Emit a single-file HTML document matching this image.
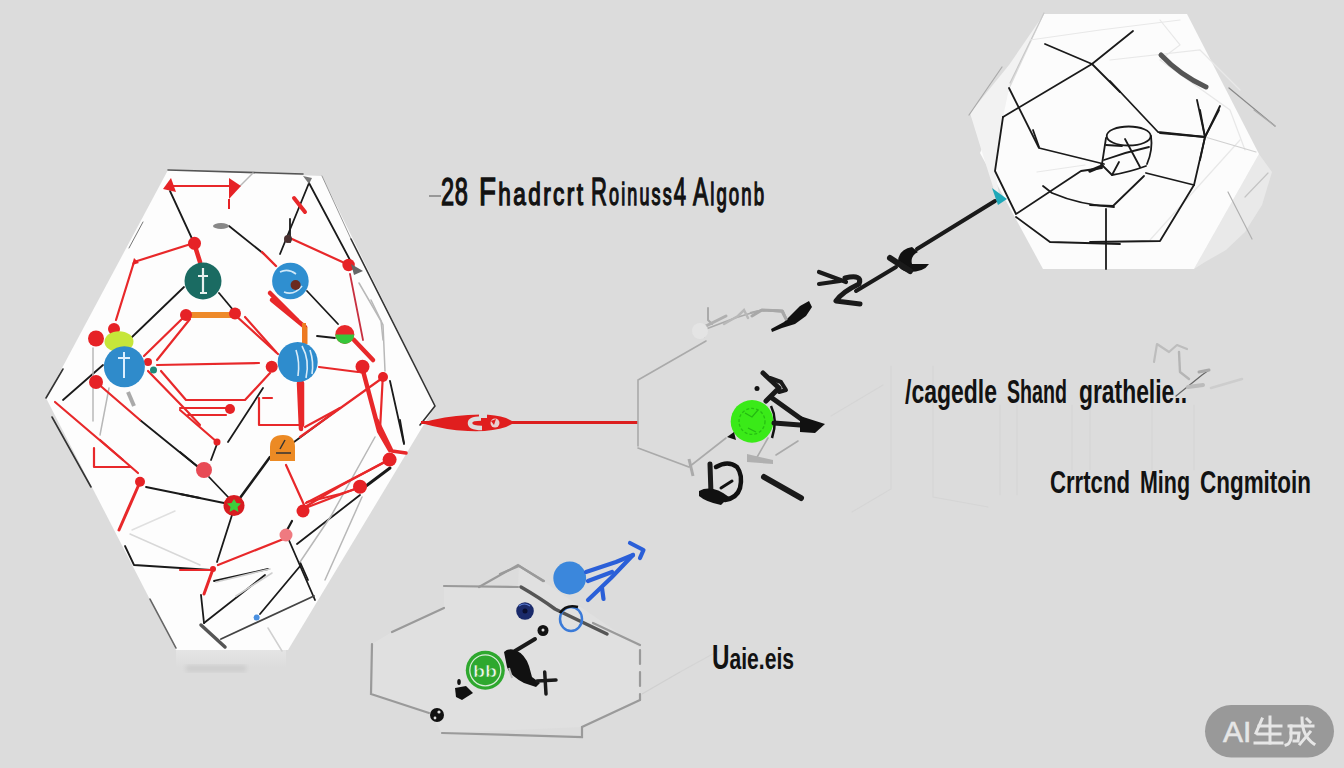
<!DOCTYPE html>
<html><head><meta charset="utf-8">
<style>
html,body{margin:0;padding:0;background:#dcdcdc;width:1344px;height:768px;overflow:hidden}
svg{display:block;position:absolute;left:0;top:0}
.t{font-family:"Liberation Sans",sans-serif;font-weight:normal;fill:#121212;stroke:#121212;stroke-width:1.4}
.tb{font-family:"Liberation Sans",sans-serif;font-weight:bold;fill:#121212}
.k{stroke:#1a1a1a;fill:none;stroke-linecap:round;stroke-linejoin:round}
.r{stroke:#e8282a;fill:none;stroke-linecap:round;stroke-linejoin:round}
.g{stroke:#b8b8b8;fill:none;stroke-linecap:round}
.lg{stroke:#e4e4e4;fill:none;stroke-linecap:round}
</style></head><body>
<svg width="1344" height="768" viewBox="0 0 1344 768">
<defs>
<linearGradient id="shad" x1="0" y1="0" x2="0" y2="1">
<stop offset="0" stop-color="#e6e6e6"/><stop offset="1" stop-color="#dcdcdc"/>
</linearGradient>
<filter id="blur2"><feGaussianBlur stdDeviation="2"/></filter>
</defs>
<rect width="1344" height="768" fill="#dcdcdc"/>

<!-- ===== LEFT HEXAGON ===== -->
<rect x="176" y="648" width="110" height="20" fill="url(#shad)"/>
<rect x="186" y="665" width="60" height="7" fill="#cdcdcd" filter="url(#blur2)"/>
<polygon points="168,170 322,176 435,406 288,650 176,650 46,398" fill="#fdfdfd"/>
<!-- edge lines -->
<g class="k" stroke-width="1.6">
<path d="M168,170 L303,174" stroke="#555"/>
<path d="M322,176 L351,239" stroke="#999" stroke-width="1"/>
<path d="M351,239 L435,406 L420,425" stroke="#333"/>
<path d="M143,222 L129,248" stroke="#777" stroke-width="1"/>
<path d="M46,398 L63,369" stroke="#333"/>
<path d="M52,417 L91,487" stroke="#333"/>
<path d="M150,599 L176,648" stroke="#666"/>
</g>
<!-- black inner lines -->
<g class="k" stroke-width="1.8">
<path d="M170,191 L194,243"/>
<path d="M184,287 L131,338"/>
<path d="M219,293 L234,311"/>
<path d="M229,226 L264,254"/>
<path d="M309,183 L350,260"/>
<path d="M290,219 L290,242"/>
<path d="M307,291 L338,324"/>
<path d="M309,183 L280,254"/>
<path d="M317,336 L335,338"/>
<path d="M63,400 L103,365"/>
<path d="M140,420 L198,467"/>
<path d="M217,444 L211,460"/>
<path d="M228,442 L263,388"/>
<path d="M294,442 L340,408"/>
<path d="M390,381 L404,444"/>
<path d="M400,420 L404,443"/>
<path d="M180,452 L197,466"/>
<path d="M209,477 L229,498"/>
<path d="M180,494 L224,503"/>
<path d="M232,515 L217,562"/>
<path d="M146,487 L200,498"/>
<path d="M125,546 L134,565 L211,570"/>
<path d="M288,538 L315,600"/>
<path d="M297,544 L360,495"/>
<path d="M300,562 L308,580"/>
<path d="M214,581 L268,569"/>
<path d="M204,623 L265,575"/>
<path d="M221,639 L314,596" stroke="#444"/>
<path d="M260,614 L301,565"/>
<path d="M201,595 L204,623"/>
</g>
<path d="M240,498 L270,457" class="k" stroke-width="2.6"/>
<path d="M362,489 L390,468" class="k" stroke-width="3"/>
<path d="M201,625 L225,647" fill="none" stroke-linecap="round" stroke="#555" stroke-width="3.5"/>
<!-- gray lines -->
<g class="g" stroke-width="1.5">
<path d="M93,348 L93,421"/>
<path d="M109,388 L100,435"/>
<path d="M359,283 L381,321 L383,340"/>
<path d="M371,300 L383,325 L385,371"/>
<path d="M375,437 L331,516 L300,562"/>
<path d="M362,497 L325,580"/>
<path d="M132,530 L175,511" stroke="#e0e0e0"/>
<path d="M130,534 L200,565" stroke="#d8d8d8"/>
<path d="M216,582 L270,569" stroke="#cfcfcf"/>
<path d="M236,596 L272,573" stroke="#cfcfcf"/>
<path d="M268,628 L282,651" stroke="#d0d0d0"/>
<path d="M240,186 L253,173"/>
</g>
<!-- red lines -->
<g class="r" stroke-width="2.2">
<path d="M173,186 L235,186"/>
<path d="M194,243 L134,262 L116,320"/>
<path d="M235,315 L278,354"/>
<path d="M245,317 L276,352"/>
<path d="M144,356 L186,315"/>
<path d="M157,360 L190,319"/>
<path d="M157,365 L259,363"/>
<path d="M148,371 L186,410 L200,425"/>
<path d="M161,371 L186,400 L245,400 L270,373"/>
<path d="M180,408 L230,408"/>
<path d="M188,415 L226,415"/>
<path d="M180,410 L217,442"/>
<path d="M96,382 L140,420"/>
<path d="M55,402 L123,460"/>
<path d="M94,448 L94,467 L130,467"/>
<path d="M100,440 L138,473"/>
<path d="M259,398 L259,425 L301,425"/>
<path d="M263,398 L272,398"/>
<path d="M286,465 L305,507"/>
<path d="M305,507 L340,486 L388,460"/>
<path d="M307,502 L340,494 L362,487"/>
<path d="M300,510 L360,487"/>
<path d="M306,503 L389,460"/>
<path d="M305,427 L340,408"/>
<path d="M319,367 L358,372"/>
<path d="M383,373 L380,430"/>
<path d="M286,538 L218,565"/>
<path d="M292,521 L286,532" stroke="#1a1a1a"/>
<path d="M180,570 L213,570"/>
<path d="M300,437 L381,379"/>
<path d="M262,252 L276,266" stroke-width="2.4"/>
<path d="M292,239 L349,265"/>
<path d="M350,274 L363,340" stroke="#c83040" stroke-width="1.8"/>
<path d="M294,198 L305,212" stroke-width="4"/>
</g>
<g class="r" stroke-width="4.5">
<path d="M194,243 L200,262"/>
<path d="M270,293 L297,320"/>
<path d="M354,340 L373,360"/>
<path d="M362,367 L379,431 L390,450"/>
<path d="M299,383 L301,429"/>
<path d="M302,383 L302,425"/>
<path d="M272,300 L305,327"/>
<path d="M140,482 L119,530" stroke-width="3"/>
<path d="M213,569 L204,594" stroke-width="3"/>
<path d="M377,420 L392,451 L406,453" stroke-width="3.5"/>
</g>
<path d="M305,327 L305,344" stroke="#e87a20" stroke-width="5"/>
<path d="M190,315 L234,315" stroke="#ee8a2a" stroke-width="6"/>
<path d="M304,323 L304,344" stroke="#ee7a22" stroke-width="4"/>
<!-- red arrowheads / blobs -->
<g fill="#e62226">
<path d="M229,178 L241,186 L229,199 Z"/>
<path d="M229,199 L229,209" stroke="#e62226" stroke-width="2"/>
<path d="M171,178 L163,189 L176,192 Z"/>
<path d="M134,258 L139,263 L132,265 Z"/>
<circle cx="194.5" cy="243.3" r="6.5"/>
<circle cx="186" cy="315" r="6"/>
<circle cx="235" cy="313.5" r="6"/>
<circle cx="96" cy="338.5" r="8"/>
<circle cx="114" cy="329" r="6"/>
<circle cx="148" cy="362" r="4"/>
<circle cx="96" cy="382" r="7"/>
<circle cx="271.7" cy="366.7" r="6"/>
<circle cx="230" cy="409" r="5"/>
<circle cx="217" cy="442" r="3.5"/>
<circle cx="362.5" cy="366.7" r="7"/>
<circle cx="383" cy="377" r="5"/>
<circle cx="348.6" cy="265" r="6.2"/>
<circle cx="140" cy="481.7" r="5"/>
<circle cx="204" cy="470" r="8" fill="#e84a55"/>
<circle cx="303" cy="511" r="6.5"/>
<circle cx="286" cy="535" r="6.5" fill="#ef7a80"/>
<circle cx="360" cy="486.7" r="7"/>
<circle cx="389.6" cy="459.6" r="7"/>
<circle cx="234" cy="505.6" r="10.5" fill="#d81c20"/>
<circle cx="213" cy="569" r="3"/>
</g>
<!-- gray nubs -->
<ellipse cx="221" cy="226" rx="8" ry="3" fill="#888"/>
<path d="M303,176 L312,178 L309,184 Z" fill="#777"/>
<path d="M351,264 L363,271 L354,275 Z" fill="#666"/>
<circle cx="288" cy="239" r="4" fill="#4a3030"/>
<!-- green star -->
<path d="M234,499 L236.5,503 L241,503.5 L237.5,507 L238.5,512 L234,509.5 L229.5,512 L230.5,507 L227,503.5 L231.5,503 Z" fill="#3ccf3c"/>
<!-- teal circle -->
<circle cx="203" cy="281" r="18.5" fill="#1a6b62"/>
<path d="M203,268 L203,293 M198,276 L208,276 M200,293 L207,293" stroke="#e8f0ee" stroke-width="2.2" fill="none"/>
<!-- blue circles -->
<circle cx="290.4" cy="281" r="18.3" fill="#2f8fd0"/>
<path d="M280,272 Q288,268 296,274 M284,292 Q294,296 302,286" stroke="#cfe8f8" stroke-width="1.6" fill="none"/>
<circle cx="295.6" cy="285" r="5" fill="#6b2a1e"/>
<circle cx="297.7" cy="362" r="20" fill="#2e8ccd"/>
<path d="M302,346 Q310,360 306,378 M296,350 Q300,362 298,376 M310,350 Q314,362 312,374" stroke="#d8ecf8" stroke-width="1.6" fill="none"/>
<ellipse cx="119" cy="341.7" rx="14.5" ry="10.5" fill="#c6e63a"/>
<circle cx="124.4" cy="366.7" r="20.5" fill="#2f8bcb"/>
<path d="M124,352 L124,378 M118,358 L130,358" stroke="#dcefff" stroke-width="2" fill="none"/>
<path d="M128,392 L134,406" stroke="#aaa" stroke-width="4"/>
<circle cx="153.5" cy="370" r="3.5" fill="#1e8a7a"/>
<!-- red/green ball -->
<circle cx="344.8" cy="334.4" r="9.5" fill="#e8282a"/>
<path d="M335.3,334.4 A9.5,9.5 0 0 0 354.3,334.4 Z" fill="#37c63a"/>
<!-- orange icon -->
<path d="M270,461 L270,447 Q270,435 283,435 Q295,435 295,447 L295,461 Z" fill="#ec8a24"/>
<path d="M276,453 L291,453 M285,440 L280,449" stroke="#333" stroke-width="1.5" fill="none"/>
<!-- blue small blob bottom -->
<circle cx="256.6" cy="617.5" r="3" fill="#4a90e0"/>
<!-- red arrow to middle -->
<path d="M421,422.5 L638,422.5" stroke="#dc1e1e" stroke-width="3"/>
<path d="M421,423 Q445,416 468,415 Q492,413 506,418 L515,422.5 L506,427 Q492,432 468,431 Q445,430 421,423 Z" fill="#e01e1e"/>
<path d="M481,418.5 Q470,418.5 470,423 Q470,428 482,428" stroke="#dcdcdc" stroke-width="4.5" fill="none"/>
<rect x="479" y="412" width="8" height="6" fill="#dcdcdc"/>
<circle cx="495" cy="423" r="4.5" fill="#e9cfcf"/>
<path d="M491,421 L496,419 L494,425 Z" fill="#e01e1e"/>
<path d="M421,423 L460,416 L460,430 Z" fill="#e01e1e"/>

<!-- ===== TOP RIGHT HEXAGON ===== -->
<polygon points="1259,154 1272,172 1262,205 1245,232 1226,250 1205,262 1194,269" fill="#e9e9e9"/>
<polygon points="1044,14 1187,14 1259,154 1194,269 1043,269 980,153" fill="#fcfcfc"/>
<polygon points="970,113 1009,65 1044,14 1010,84 1003,117 995,171 1000,200 994,190 982,152" fill="#f2f2f2"/>
<g fill="none" stroke-linecap="round" stroke-width="1.2" stroke="#e8e8e8">
<path d="M1044,13 L1010,83" stroke="#c8c8c8"/>
<path d="M969,115 L1002,67" stroke="#aaa"/>
<path d="M1037,172 L1085,165"/>
<path d="M1229,88 L1275,126" stroke="#888"/>
<path d="M1254,110 L1275,126" stroke="#aaa"/>
<path d="M1268,173 L1245,197" stroke="#c4c4c4"/>
<path d="M1228,192 L1252,239" stroke="#b0b0b0"/>
<path d="M1160,20 L1180,45 L1160,60 L1230,110 L1245,150"/>
<path d="M1030,40 L1100,30 L1180,20"/>
<path d="M1110,60 L1200,50 L1240,90"/>
<path d="M1150,240 L1240,140"/>
<path d="M1205,137 L1256,152" stroke="#d0d0d0"/>
</g>
<g class="k" stroke-width="1.8">
<path d="M1045,44 L1092,64 L1120,92"/>
<path d="M1003,117 L1092,64 L1133,31"/>
<path d="M1009,88 L1039,148 L1104,164"/>
<path d="M1003,117 L995,171 L1016,214 L1081,171 L1102,168"/>
<path d="M1033,130 L1039,147"/>
<path d="M1110,81 L1158,132 L1205,137"/>
<path d="M1197,100 L1205,137 L1200,160"/>
<path d="M1220,106 L1205,137"/>
<path d="M1160,133 L1205,137 L1219,110"/>
<path d="M1200,110 L1205,137"/>
<path d="M1146,173 L1194,185 L1205,137"/>
<path d="M1194,185 L1160,241 L1090,242"/>
<path d="M1144,176 L1113,206 L1090,205"/>
<path d="M1106,209 L1106,269"/>
<path d="M1016,217 L1050,242 L1120,244"/>
<path d="M1043,186 L1052,193 Q1080,205 1114,207"/>
<path d="M1101,164 L1112,175 Q1130,172 1146,166"/>
<path d="M1106,138 L1102,164"/>
<path d="M1151,136 Q1153,150 1147,164"/>
<path d="M1125,139 L1140,167"/>
<path d="M1106,145 L1122,146"/>
<path d="M1104,160 Q1126,152 1149,147"/>
<path d="M1112,175 L1119,162"/>
</g>
<ellipse cx="1128.7" cy="136" rx="22" ry="9.5" fill="none" stroke="#1a1a1a" stroke-width="1.8"/>
<path d="M1090,171 L1102,166" class="k" stroke-width="3.5"/>
<path d="M1161,55 Q1180,75 1206,87" stroke="#555" stroke-width="5" fill="none" stroke-linecap="round"/>
<!-- arrow line -->
<path d="M995,201 L917,249" class="k" stroke-width="4"/>
<path d="M992,188 L1007,199 L998,205 Z" fill="#1fa8b8"/>
<path d="M898,262 Q898,250 912,247 L918,252 Q910,256 912,264 L929,264 Q924,272 909,272 Q898,271 898,262 Z" fill="#111"/>
<path d="M890,258 L910,271" class="k" stroke-width="6"/>
<path d="M896,267 L856,291" class="k" stroke-width="4"/>
<path d="M819,272 L846,282 M819,284 L840,281" class="k" stroke-width="4.2"/>
<path d="M845,278 Q863,274 859,284 Q842,292 836,301 L860,304" class="k" stroke-width="5"/>
<path d="M771,329 L784,322 L792,314 L800,306 L809,301 L812,307 L806,316 L795,324 L782,328 L772,332 Z" fill="#111"/>
<path d="M750,313 Q770,308 783,311 L786,318" stroke="#aaa" stroke-width="2" fill="none"/>

<!-- ===== MIDDLE HEXAGON ===== -->
<g fill="none" stroke-linecap="round" stroke-width="1.6" stroke="#aaa">
<path d="M638,446 L638,380 L706,341"/>
<path d="M638,448 L689,467 L726,438"/>
<path d="M706,329 L735,318 L761,310 L782,312 L786,319"/>
<path d="M708,308 L708,320 L712,324" stroke-width="2"/>
<path d="M704,336 L706,326 L726,316" stroke="#b0b0b0" stroke-width="3"/>
<path d="M724,324 L738,316 L744,310 L748,318" stroke="#b8b8b8" stroke-width="2.5"/>
<path d="M752,316 L762,310 L782,311 L786,319" stroke="#a8a8a8" stroke-width="3"/>
<path d="M776,455 L798,441"/>
<path d="M756,459 L768,438"/>
</g>
<circle cx="700" cy="331" r="8" fill="#e4e4e4"/>
<path d="M747,454 L773,460 L773,464 L747,462 Z" fill="#b0b0b0"/>
<path d="M689,459 L693,476" stroke="#aaa" stroke-width="3"/>
<g fill="none" stroke-linecap="round" stroke="#d5d5d5" stroke-width="1.1">
<path d="M831,416 L883,385"/>
<path d="M891,366 L891,489 L852,512"/>
<path d="M933,366 L933,497 L988,507"/>
<path d="M1000,405 L1000,495"/>
<path d="M1017,405 L1017,495"/>
<path d="M1072,405 L1072,470"/>
<path d="M1090,405 L1090,470"/>
<path d="M1152,405 L1152,470"/>
<path d="M1194,405 L1194,470"/>
</g>
<path d="M771,406 Q778,420 772,438" stroke="#111" stroke-width="2.5" fill="none"/>
<circle cx="752" cy="421.4" r="21.3" fill="#3aea18"/>
<circle cx="752" cy="421.4" r="13" fill="none" stroke="#26c012" stroke-width="1.3" stroke-dasharray="3 2"/>
<path d="M745,413 L752,417 L758,410 M748,428 L756,432" stroke="#24b812" stroke-width="1.2" fill="none"/>
<g class="k" stroke-width="5">
<path d="M763,373 L779,388 L766,401"/>
<path d="M770,378 L781,382 L786,390 L779,392" stroke-width="4"/>
<path d="M772,398 L804,421"/>
<path d="M774,423 L800,425"/>
<path d="M710,464 L711,494"/>
<path d="M764,477 L801,498" stroke-width="6"/>
</g>
<path d="M800,416 L825,424 L815,433 L800,432 Z" fill="#111"/>
<path d="M772,302 L809,302 L805,322 L770,330 Z" fill="#111" opacity="0"/>
<path d="M716,467 Q728,460 737,467 Q743,475 740,488 Q737,498 725,500 L716,497" fill="none" stroke="#111" stroke-width="4.5" stroke-linecap="round"/>
<path d="M721,488 L732,481" stroke="#111" stroke-width="3" stroke-linecap="round"/>
<path d="M727,437 L734,432 L736,440 Z" fill="#111"/>
<path d="M699,491 Q712,484 729,497 L721,505 Q706,502 699,496 Z" fill="#111"/>
<circle cx="757" cy="388.6" r="2.5" fill="#111"/>

<!-- ===== BOTTOM HEXAGON ===== -->
<polygon points="444,586 518,587 519,565 543,581 640,648 640,700 582,727 442,733 429,713 371,694 372,644 392,632 444,608" fill="#e0e0e0"/>
<g fill="none" stroke-linecap="round" stroke="#9a9a9a" stroke-width="2.2">
<path d="M444,586 L518,587"/>
<path d="M479,587 L518,565 L543,581"/>
<path d="M392,632 L444,608"/>
<path d="M372,644 L371,694 L429,713"/>
<path d="M442,733 L582,737 L582,727 L640,700"/>
<path d="M593,623 L640,645"/>
<path d="M640,650 L640,700" stroke-dasharray="14 8"/>
<path d="M500,574 L519,566 L544,581"/>
</g>
<path d="M642,694 L680,672" stroke="#d0d0d0" stroke-width="1.2"/>
<path d="M680,672 L720,650" stroke="#d4d4d4" stroke-width="1.2"/>
<path d="M521,587 Q540,598 555,609 L607,634" stroke="#555" stroke-width="3.5" fill="none" stroke-linecap="round"/>
<circle cx="569.7" cy="578" r="16.4" fill="#3b87dc"/>
<g stroke="#2a5fd8" stroke-width="4.2" fill="none" stroke-linecap="round" stroke-linejoin="round">
<path d="M586,572 L616,562 L633,555"/>
<path d="M588,581 L612,572"/>
<path d="M588,600 L611,578 L633,555"/>
<path d="M602,588 L603.5,599"/>
<path d="M630,543 L643.5,550 L640,558"/>
</g>
<circle cx="525" cy="611" r="8.8" fill="#1a2a6a"/>
<path d="M519,606 Q524,602 530,606" stroke="#5a7ad0" stroke-width="1.2" fill="none"/>
<circle cx="525" cy="611" r="2.5" fill="#0a0f30"/>
<ellipse cx="571" cy="619" rx="11" ry="12" fill="none" stroke="#3a7ad8" stroke-width="2.5"/>
<path d="M560,613 Q566,604 578,607" stroke="#111" stroke-width="2.5" fill="none"/>
<circle cx="543" cy="630.5" r="5.5" fill="#111"/>
<circle cx="543" cy="630" r="1.5" fill="#ddd"/>
<path d="M515,651 L535,639" class="k" stroke-width="4"/>
<path d="M504,652 Q508,648 515,650 Q525,654 529,666 L532,677 L540,683 L536,687 L524,683 Q510,676 507,667 Z" fill="#111"/>
<path d="M509,668 L512,678" stroke="#bbb" stroke-width="2"/>
<path d="M537,681 L556,680 M544.7,672 L546,694" class="k" stroke-width="3.5"/>
<path d="M455,688 L466,686 L473,693 L462,700 L456,697 Z" fill="#111"/>
<ellipse cx="459" cy="682" rx="1.8" ry="3" fill="#111"/>
<circle cx="437" cy="715" r="7" fill="#111"/>
<circle cx="439" cy="712" r="1.6" fill="#ddd"/><circle cx="435" cy="718" r="1.4" fill="#ddd"/>
<circle cx="485.3" cy="670.3" r="19.5" fill="#2ea82e"/>
<circle cx="485.3" cy="670.3" r="15.5" fill="none" stroke="#d8ecd8" stroke-width="1.3"/>
<text x="473" y="677" font-family="Liberation Sans, sans-serif" font-weight="bold" font-size="17" fill="#eef6ee" stroke="#2ea82e" stroke-width="0.6" textLength="24" lengthAdjust="spacingAndGlyphs">bb</text>

<!-- faint squiggle right -->
<g fill="none" stroke-linecap="round" stroke-linejoin="round">
<path d="M1154,362 L1157,344 L1169,352 L1177,345 L1187,349" stroke="#bdbdbd" stroke-width="2.2"/>
<path d="M1179,352 L1180,372 L1189,379" stroke="#b5b5b5" stroke-width="2.4"/>
<path d="M1176,396 L1202,375 L1209,370" stroke="#666" stroke-width="1.2"/>
<path d="M1199,372 L1209,370" stroke="#aaa" stroke-width="3"/>
<path d="M1188,387 L1203,385" stroke="#bbb" stroke-width="4"/>
<path d="M1211,388 L1242,379" stroke="#cdcdcd" stroke-width="2.5"/>
</g>

<!-- ===== TEXTS ===== -->
<path d="M429,196 L441,196" stroke="#555" stroke-width="1"/>
<g class="t">
<text transform="translate(441,205) scale(0.62,1)" x="0" y="0" font-size="38" textLength="43.5" lengthAdjust="spacing">28</text>
<text transform="translate(479,205) scale(0.73,1)" x="0" y="0" font-size="38" textLength="142.5" lengthAdjust="spacing">F<tspan font-size="31">hadrcrt</tspan></text>
<text transform="translate(591,205) scale(0.58,1)" x="0" y="0" font-size="38" textLength="163.8" lengthAdjust="spacing">R<tspan font-size="31">oinuss</tspan>4</text>
<text transform="translate(693,205) scale(0.6,1)" x="0" y="0" font-size="38" textLength="118.3" lengthAdjust="spacing">A<tspan font-size="31">lgonb</tspan></text>
</g>
<g class="tb">
<text x="905" y="403" font-size="34" textLength="92" lengthAdjust="spacingAndGlyphs">/cagedle</text>
<text x="1007" y="403" font-size="34" textLength="60" lengthAdjust="spacingAndGlyphs">Shand</text>
<text x="1079" y="403" font-size="34" textLength="108" lengthAdjust="spacingAndGlyphs">grathelie..</text>

<text x="1050" y="492.5" font-size="32" textLength="80" lengthAdjust="spacingAndGlyphs">Crrtcnd</text>
<text x="1140" y="492.5" font-size="32" textLength="50" lengthAdjust="spacingAndGlyphs">Ming</text>
<text x="1200" y="492.5" font-size="32" textLength="111" lengthAdjust="spacingAndGlyphs">Cngmitoin</text>

<text x="712" y="669" font-size="34.5" textLength="82" lengthAdjust="spacingAndGlyphs">U<tspan font-size="30">aie.eis</tspan></text>
</g>

<!-- ===== WATERMARK ===== -->
<rect x="1205" y="705" width="129" height="52.5" rx="26.25" fill="#999999"/>
<text x="1223" y="742" font-family="Liberation Sans, sans-serif" font-size="30" fill="#e6e6e6" stroke="#e6e6e6" stroke-width="0.6">AI</text>
<g stroke="#e6e6e6" stroke-width="3" fill="none" stroke-linecap="square">
<!-- 生 -->
<path d="M1262,719 L1256,733"/>
<path d="M1259,726 L1281,726"/>
<path d="M1270,717 L1270,743"/>
<path d="M1258,734 L1280,734"/>
<path d="M1255,743 L1282,743"/>
<!-- 成 -->
<path d="M1289,726 L1313,726"/>
<path d="M1291,726 L1291,738 Q1290,744 1286,745"/>
<path d="M1291,733 L1299,733 L1298,741 L1294,741"/>
<path d="M1302,718 Q1302,736 1314,744"/>
<path d="M1310,732 L1300,744"/>
<path d="M1307,719 L1310,722"/>
</g>
</svg>
</body></html>
